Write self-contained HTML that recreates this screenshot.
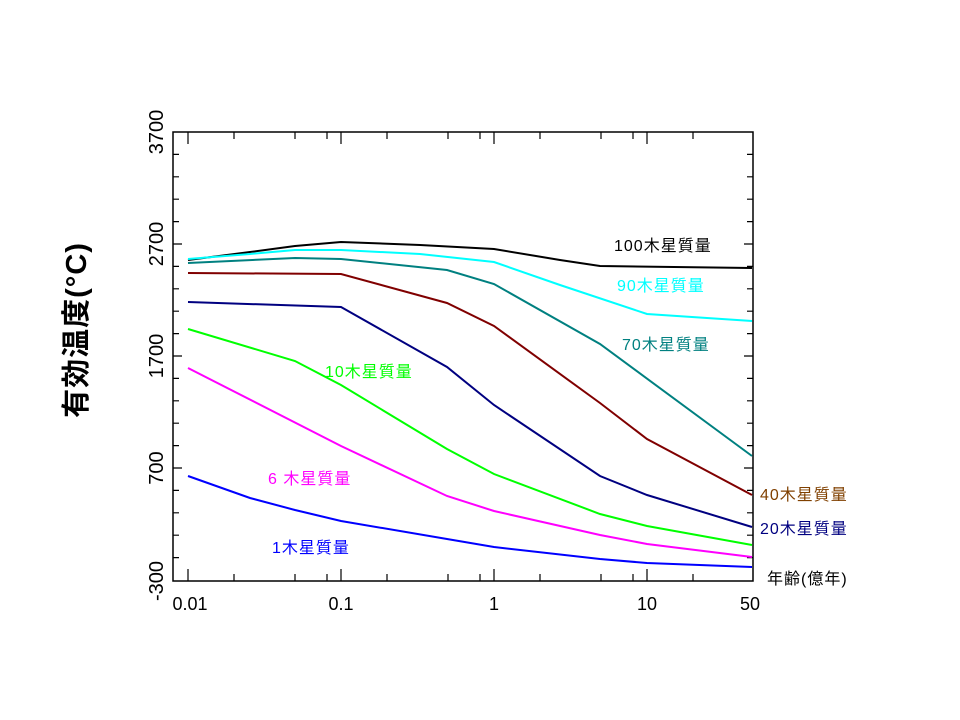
<!DOCTYPE html>
<html><head><meta charset="utf-8"><style>
html,body{margin:0;padding:0;background:#fff;}
svg{display:block;}
text{font-family:"Liberation Sans","Noto Sans CJK JP",sans-serif;}
</style></head><body>
<svg width="960" height="720" viewBox="0 0 960 720" xmlns="http://www.w3.org/2000/svg">
<rect x="173" y="132" width="580" height="449" fill="none" stroke="#000" stroke-width="1.5"/>
<g stroke="#000" stroke-width="1.2">
<path d="M173 154.4h6M173 176.8h6M173 199.2h6M173 221.6h6M173 244h9M173 266.4h6M173 288.8h6M173 311.2h6M173 333.6h6M173 356h9M173 378.4h6M173 400.8h6M173 423.2h6M173 445.6h6M173 468h9M173 490.4h6M173 512.8h6M173 535.2h6M173 557.6h6"/>
<path d="M753 154.4h-6M753 176.8h-6M753 199.2h-6M753 221.6h-6M753 244h-9M753 266.4h-6M753 288.8h-6M753 311.2h-6M753 333.6h-6M753 356h-9M753 378.4h-6M753 400.8h-6M753 423.2h-6M753 445.6h-6M753 468h-9M753 490.4h-6M753 512.8h-6M753 535.2h-6M753 557.6h-6"/>
<path d="M188 581v-12M234 581v-7M295 581v-7M327 581v-7M341 581v-12M387 581v-7M448 581v-7M480 581v-7M494 581v-12M540 581v-7M601 581v-7M633 581v-7M647 581v-12M693 581v-7"/>
<path d="M188 132v12M234 132v7M295 132v7M327 132v7M341 132v12M387 132v7M448 132v7M480 132v7M494 132v12M540 132v7M601 132v7M633 132v7M647 132v12M693 132v7"/>
</g>
<g fill="none" stroke-width="2">
<polyline stroke="#000" points="188,260 250,252 295,246 341,242 420,245 494,249 560,260 600,266 752,268"/>
<polyline stroke="#00ffff" points="188,259 250,254 295,250 341,250 420,254 494,262 560,285 647,314 752,321"/>
<polyline stroke="#008080" points="188,263 295,258 341,259 447,270 494,284 600,344 752,456"/>
<polyline stroke="#800000" points="188,273 341,274 447,303 494,326 600,403 647,439 752,495"/>
<polyline stroke="#000080" points="188,302 341,307 447,367 494,405 600,476 647,495 752,527"/>
<polyline stroke="#00ff00" points="188,329 295,361 341,385 447,449 494,474 600,514 647,526 752,545"/>
<polyline stroke="#ff00ff" points="188,368 341,446 447,496 494,511 600,535 647,544 752,557"/>
<polyline stroke="#0000ff" points="188,476 250,498 295,510 341,521 447,539 494,547 600,559 647,563 752,567"/>
</g>
<g font-size="20" text-anchor="middle">
<text transform="translate(163,132) rotate(-90)">3700</text>
<text transform="translate(163,244) rotate(-90)">2700</text>
<text transform="translate(163,356) rotate(-90)">1700</text>
<text transform="translate(163,468) rotate(-90)">700</text>
<text transform="translate(163,581) rotate(-90)">-300</text>
</g>
<g font-size="18" text-anchor="middle">
<text x="190" y="610">0.01</text>
<text x="341" y="610">0.1</text>
<text x="494" y="610">1</text>
<text x="647" y="610">10</text>
<text x="750" y="610">50</text>
</g>
<text transform="translate(86,330) rotate(-90)" font-size="29" font-weight="bold" text-anchor="middle" letter-spacing="1">有効温度(°C)</text>
<g font-size="16" letter-spacing="1">
<text x="614" y="251" fill="#000">100木星質量</text>
<text x="617" y="291" fill="#00ffff">90木星質量</text>
<text x="622" y="350" fill="#008080">70木星質量</text>
<text x="325" y="377" fill="#00ff00">10木星質量</text>
<text x="268" y="484" fill="#ff00ff">6 木星質量</text>
<text x="272" y="553" fill="#0000ff">1木星質量</text>
<text x="760" y="500" fill="#804000">40木星質量</text>
<text x="760" y="534" fill="#000080">20木星質量</text>
<text x="767" y="584" fill="#000">年齢(億年)</text>
</g>
</svg>
</body></html>
